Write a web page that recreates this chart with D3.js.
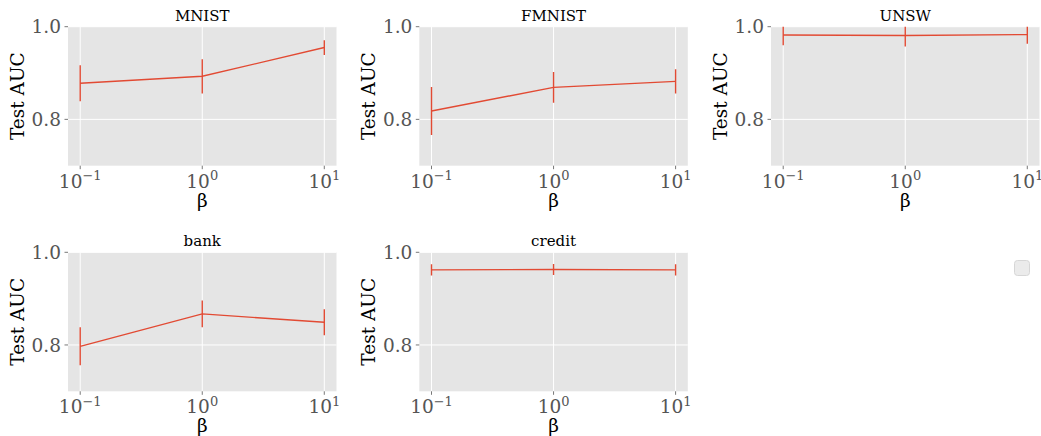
<!DOCTYPE html>
<html><head><meta charset="utf-8">
<script src="https://cdn.jsdelivr.net/npm/d3@7"></script>
<style>body{margin:0;background:#fff;} svg{display:block;}</style>
</head><body><svg id="c" width="1041" height="436"></svg>
<script>
// ---- data ----
const datasets = ["MNIST", "FMNIST", "UNSW", "bank", "credit"];
const betas = [0.1, 1, 10];
const mnistMean  = [0.878, 0.893, 0.955];
const mnistErr   = [0.039, 0.037, 0.016];
const fmnistMean = [0.818, 0.869, 0.882];
const fmnistErr  = [0.052, 0.033, 0.026];
const unswMean   = [0.982, 0.981, 0.983];
const unswErr    = [0.022, 0.024, 0.020];
const bankMean   = [0.797, 0.867, 0.849];
const bankErr    = [0.041, 0.029, 0.028];
const creditMean = [0.962, 0.963, 0.962];
const creditErr  = [0.012, 0.012, 0.012];
const yTicks = [0.8, 1.0];
const xTicks = [0.1, 1, 10];
const xTickExp = ["\u22121", "0", "1"];

const means = [mnistMean, fmnistMean, unswMean, bankMean, creditMean];
const errs  = [mnistErr, fmnistErr, unswErr, bankErr, creditErr];

// ---- layout ----
const colLeft = [68, 419.3, 771];
const rowTop = [26.7, 252.3];
const W = 268.5, H = 139;
const red = "#E24A33";
const serif = "'DejaVu Serif', serif";

const svg = d3.select("#c");

datasets.forEach((name, i) => {
  const r = Math.floor(i / 3), c = i % 3;
  const x0 = colLeft[c], y0 = rowTop[r];
  const g = svg.append("g").attr("transform", `translate(${x0},${y0})`);
  const x = d3.scaleLog().domain([Math.pow(10, -1.1), Math.pow(10, 1.1)]).range([0, W]);
  const y = d3.scaleLinear().domain([0.7, 1.0]).range([H, 0]);

  g.append("rect").attr("width", W).attr("height", H).attr("fill", "#E5E5E5");
  // grid
  g.selectAll(".gx").data(xTicks).enter().append("line")
    .attr("x1", d => x(d)).attr("x2", d => x(d)).attr("y1", 0).attr("y2", H)
    .attr("stroke", "#fff").attr("stroke-width", 1);
  g.selectAll(".gy").data(yTicks).enter().append("line")
    .attr("y1", d => y(d)).attr("y2", d => y(d)).attr("x1", 0).attr("x2", W)
    .attr("stroke", "#fff").attr("stroke-width", 1);

  // ticks
  g.selectAll(".ty").data(yTicks).enter().append("line")
    .attr("x1", -3.5).attr("x2", 0).attr("y1", d => y(d)).attr("y2", d => y(d))
    .attr("stroke", "#555").attr("stroke-width", 0.8);
  g.selectAll(".tyl").data(yTicks).enter().append("text")
    .attr("x", -7).attr("y", d => y(d)).attr("dy", "0.36em")
    .attr("text-anchor", "end").attr("fill", "#555")
    .style("font-family", serif).style("font-size", "18.5px")
    .text(d => d.toFixed(1));
  g.selectAll(".tx").data(xTicks).enter().append("line")
    .attr("x1", d => x(d)).attr("x2", d => x(d)).attr("y1", H).attr("y2", H + 3.5)
    .attr("stroke", "#555").attr("stroke-width", 0.8);
  const xl = g.selectAll(".txl").data(xTicks).enter().append("text")
    .attr("x", d => x(d)).attr("y", H + 22).attr("text-anchor", "middle").attr("fill", "#555")
    .style("font-family", serif).style("font-size", "18.5px");
  xl.append("tspan").text("10");
  xl.append("tspan").attr("dy", -7.5).style("font-size", "13px").text((d, k) => xTickExp[k]);

  // labels
  g.append("text").attr("x", W / 2).attr("y", -6).attr("text-anchor", "middle")
    .attr("fill", "#000").style("font-family", serif).style("font-size", "15px").text(name);
  g.append("text").attr("x", W / 2).attr("y", H + 41).attr("text-anchor", "middle")
    .attr("fill", "#000").style("font-family", serif).style("font-size", "18.5px").text("\u03B2");
  g.append("text").attr("transform", `translate(-44,${H / 2}) rotate(-90)`)
    .attr("text-anchor", "middle").attr("fill", "#000")
    .style("font-family", serif).style("font-size", "18.5px").text("Test AUC");

  // data
  const clipId = "clip" + i;
  g.append("clipPath").attr("id", clipId).append("rect").attr("width", W).attr("height", H);
  const pg = g.append("g").attr("clip-path", `url(#${clipId})`);
  const pts = betas.map((b, k) => ({ b, m: means[i][k], e: errs[i][k] }));
  pg.append("path").datum(pts)
    .attr("d", d3.line().x(d => x(d.b)).y(d => y(d.m)))
    .attr("fill", "none").attr("stroke", red).attr("stroke-width", 1.4);
  pg.selectAll(".eb").data(pts).enter().append("line")
    .attr("x1", d => x(d.b)).attr("x2", d => x(d.b))
    .attr("y1", d => y(d.m - d.e)).attr("y2", d => y(d.m + d.e))
    .attr("stroke", red).attr("stroke-width", 1.4);
});

// empty legend box
svg.append("rect").attr("x", 1014.5).attr("y", 260.5).attr("width", 15).attr("height", 15)
  .attr("rx", 3).attr("fill", "#EBEBEB").attr("stroke", "#D6D6D6").attr("stroke-width", 1);
</script>
</body></html>
